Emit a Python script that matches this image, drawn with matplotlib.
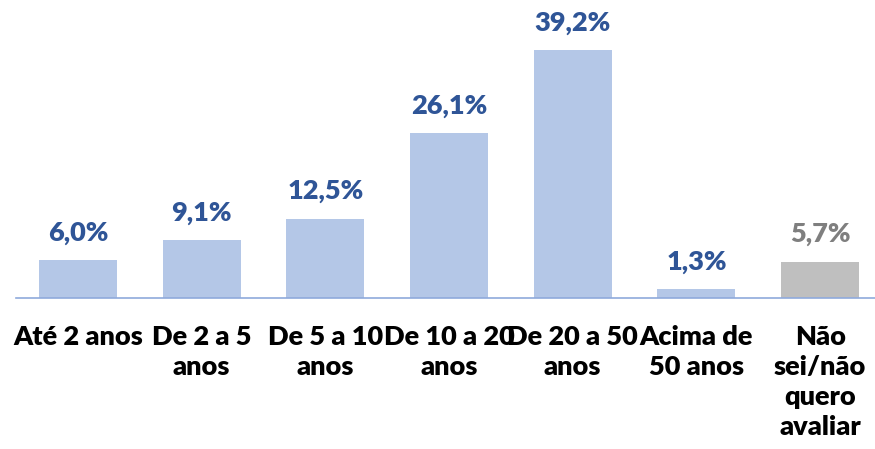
import matplotlib.pyplot as plt

categorias = ["Até 2 anos", "De 2 a 5\nanos", "De 5 a 10\nanos", "De 10 a 20\nanos",
              "De 20 a 50\nanos", "Acima de\n50 anos", "Não\nsei/não\nquero\navaliar"]
valores = [6.0, 9.1, 12.5, 26.1, 39.2, 1.3, 5.7]
rotulos = ["6,0%", "9,1%", "12,5%", "26,1%", "39,2%", "1,3%", "5,7%"]

cor_barra = ["#B4C7E7"] * 6 + ["#BFBFBF"]
cor_texto = ["#2F5597"] * 6 + ["#7F7F7F"]

plt.rcParams['font.family'] = ['Lato', 'DejaVu Sans']

fig = plt.figure(figsize=(8.75, 4.49), dpi=100)
ax = fig.add_axes([16 / 875, 151.4 / 449, 866 / 875, 0.633])

x = range(len(valores))
ax.bar(x, valores, width=0.63, color=cor_barra)
for i, v in enumerate(valores):
    ax.text(i, v + 2.4, rotulos[i], ha="center", va="bottom", fontsize=19.5,
            fontweight="heavy", color=cor_texto[i])

ax.set_xlim(-0.5, 6.5)
ax.set_ylim(0, 45)
ax.set_yticks([])
ax.set_xticks(list(x))
ax.set_xticklabels(categorias, fontsize=19.5, fontweight="heavy", color="black",
                   linespacing=1.3)
ax.tick_params(axis="x", length=0, pad=20)
for s in ["top", "right", "left"]:
    ax.spines[s].set_visible(False)
ax.spines["bottom"].set_color("#8FAADC")
ax.spines["bottom"].set_linewidth(1.2)

fig.savefig("out.png", dpi=100)
